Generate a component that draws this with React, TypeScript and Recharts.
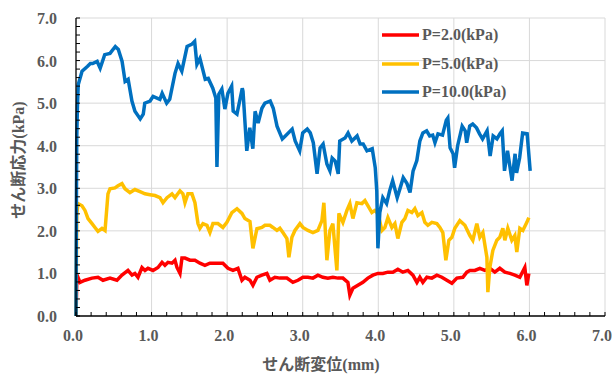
import React from 'react';
import { LineChart, Line, XAxis, YAxis, ReferenceLine } from 'recharts';

// shear displacement (mm), shear stress (kPa)
const P2: number[][] = [
  [0,0],[0.01,0.8],[0.026,0.91],[0.053,0.79],[0.119,0.84],[0.212,0.89],[0.291,0.91],[0.357,0.84],[0.45,0.89],[0.542,0.84],[0.608,0.96],[0.688,1.07],[0.741,0.96],[0.78,1.0],[0.82,0.91],[0.873,1.14],[0.913,1.07],[0.952,1.12],[1.019,1.07],[1.085,1.14],[1.138,1.26],[1.177,1.19],[1.217,1.26],[1.27,1.24],[1.31,1.31],[1.336,1.14],[1.376,1.0],[1.402,1.36],[1.442,1.36],[1.508,1.31],[1.574,1.31],[1.64,1.24],[1.706,1.19],[1.772,1.24],[1.865,1.24],[1.944,1.24],[2.011,1.12],[2.077,1.07],[2.143,1.12],[2.196,0.84],[2.235,0.91],[2.302,0.84],[2.341,0.72],[2.394,0.91],[2.46,0.96],[2.526,1.0],[2.566,0.84],[2.632,0.91],[2.698,0.89],[2.791,0.89],[2.87,0.79],[2.937,0.84],[3.003,0.91],[3.069,0.91],[3.135,0.89],[3.201,0.96],[3.267,0.91],[3.333,0.89],[3.399,0.91],[3.466,0.89],[3.532,0.89],[3.598,0.79],[3.624,0.49],[3.664,0.65],[3.73,0.72],[3.796,0.79],[3.862,0.89],[3.929,0.96],[3.995,1.0],[4.061,1.0],[4.127,1.03],[4.193,1.03],[4.259,1.1],[4.325,1.03],[4.392,1.07],[4.458,0.96],[4.511,0.79],[4.55,0.91],[4.59,0.79],[4.643,0.91],[4.709,0.89],[4.775,0.96],[4.841,0.91],[4.907,0.84],[4.974,0.77],[5.04,0.89],[5.119,0.91],[5.172,1.03],[5.212,1.07],[5.278,1.07],[5.344,1.12],[5.41,1.07],[5.476,1.12],[5.542,1.03],[5.608,1.12],[5.675,1.03],[5.741,1.0],[5.807,0.96],[5.873,0.91],[5.939,1.14],[5.966,0.72],[5.992,1.0]
];

const P5: number[][] = [
  [0,0],[0.01,2.4],[0.026,2.64],[0.079,2.59],[0.119,2.48],[0.159,2.29],[0.212,2.17],[0.251,2.08],[0.291,1.99],[0.344,2.06],[0.384,2.01],[0.423,2.87],[0.45,2.99],[0.516,3.01],[0.556,3.06],[0.608,3.11],[0.648,2.99],[0.714,2.9],[0.78,2.97],[0.847,2.92],[0.913,2.87],[0.979,2.85],[1.045,2.83],[1.111,2.78],[1.151,2.66],[1.204,2.78],[1.27,2.87],[1.31,2.78],[1.376,2.94],[1.415,2.87],[1.442,2.66],[1.481,2.87],[1.534,2.87],[1.574,2.66],[1.614,2.17],[1.64,2.06],[1.68,2.17],[1.733,2.13],[1.772,1.96],[1.812,2.17],[1.878,2.17],[1.944,2.08],[1.997,2.2],[2.063,2.43],[2.13,2.52],[2.196,2.41],[2.235,2.29],[2.302,2.22],[2.341,1.59],[2.394,2.05],[2.46,2.08],[2.5,2.13],[2.566,2.13],[2.606,2.08],[2.659,2.01],[2.698,2.06],[2.738,1.96],[2.791,1.82],[2.817,1.38],[2.857,1.85],[2.897,2.01],[2.963,2.17],[3.003,2.08],[3.069,2.01],[3.135,1.96],[3.201,2.01],[3.254,2.24],[3.28,2.66],[3.32,1.31],[3.36,2.01],[3.399,2.17],[3.452,1.07],[3.479,2.41],[3.532,2.2],[3.585,2.48],[3.624,2.64],[3.664,2.29],[3.717,2.66],[3.783,2.64],[3.823,2.71],[3.862,2.59],[3.915,2.43],[3.955,2.48],[3.995,2.41],[4.048,2.01],[4.087,2.08],[4.127,2.31],[4.18,2.08],[4.22,2.17],[4.259,1.82],[4.312,2.2],[4.352,2.29],[4.392,2.48],[4.444,2.43],[4.484,2.52],[4.524,2.36],[4.577,2.43],[4.616,2.2],[4.656,2.13],[4.709,2.2],[4.775,2.17],[4.815,2.08],[4.854,1.96],[4.894,1.31],[4.934,1.78],[4.974,1.85],[5.013,2.06],[5.079,2.24],[5.146,2.13],[5.212,1.89],[5.251,1.78],[5.304,2.17],[5.344,1.85],[5.384,1.96],[5.437,1.38],[5.45,0.56],[5.476,1.14],[5.516,1.54],[5.569,1.78],[5.608,1.85],[5.648,2.06],[5.675,1.78],[5.714,2.06],[5.767,1.78],[5.807,1.89],[5.833,1.5],[5.873,2.06],[5.913,2.01],[5.966,2.2],[5.992,2.31]
];

const P10: number[][] = [
  [0,0],[0.005,2.5],[0.01,4.2],[0.02,5.0],[0.03,5.44],[0.08,5.75],[0.15,5.86],[0.19,5.93],[0.22,5.93],[0.28,5.98],[0.32,5.82],[0.38,6.14],[0.45,6.17],[0.52,6.33],[0.56,6.26],[0.61,5.98],[0.65,5.51],[0.69,5.56],[0.74,5.05],[0.78,4.81],[0.85,4.63],[0.89,4.74],[0.91,5.0],[0.98,5.05],[1.02,5.16],[1.11,5.09],[1.14,5.23],[1.2,5.0],[1.24,5.09],[1.31,5.7],[1.35,5.93],[1.4,5.75],[1.47,6.33],[1.53,6.38],[1.57,6.45],[1.6,5.91],[1.64,6.05],[1.71,5.56],[1.75,5.58],[1.81,5.35],[1.85,5.12],[1.865,3.5],[1.89,5.21],[1.93,5.33],[1.97,4.86],[2.01,5.23],[2.06,5.4],[2.08,4.81],[2.13,4.74],[2.2,5.35],[2.21,5.28],[2.26,3.88],[2.3,4.42],[2.34,3.93],[2.37,4.81],[2.41,4.53],[2.46,4.88],[2.5,5.0],[2.57,5.05],[2.61,4.88],[2.66,4.46],[2.73,4.16],[2.77,4.23],[2.86,4.39],[2.9,4.11],[2.96,3.88],[3.0,4.3],[3.06,4.39],[3.1,4.3],[3.14,4.07],[3.19,3.34],[3.23,3.95],[3.27,4.04],[3.32,3.57],[3.36,3.41],[3.39,3.71],[3.43,3.64],[3.47,3.34],[3.49,4.11],[3.56,4.18],[3.6,4.3],[3.65,4.11],[3.72,4.23],[3.76,4.04],[3.8,4.04],[3.85,3.88],[3.92,3.93],[3.96,3.48],[3.98,2.94],[3.995,1.59],[4.02,2.43],[4.06,2.78],[4.11,2.64],[4.15,2.94],[4.19,3.18],[4.25,2.78],[4.29,3.01],[4.33,3.25],[4.38,3.11],[4.42,2.9],[4.46,3.4],[4.51,3.65],[4.55,4.11],[4.59,4.3],[4.64,4.35],[4.68,4.23],[4.72,4.25],[4.75,4.07],[4.79,4.28],[4.85,4.25],[4.9,4.6],[4.92,4.65],[4.95,3.95],[4.99,3.81],[5.01,3.48],[5.05,4.0],[5.11,4.46],[5.15,4.35],[5.17,4.07],[5.21,4.46],[5.25,4.51],[5.3,4.42],[5.34,4.28],[5.38,4.16],[5.44,4.35],[5.48,3.76],[5.52,4.23],[5.57,4.16],[5.61,4.28],[5.64,4.35],[5.67,3.41],[5.71,3.88],[5.77,3.18],[5.81,3.81],[5.83,3.36],[5.87,3.71],[5.91,4.3],[5.97,4.28],[6.01,3.41]
];

const minorTicks = [0,0.2,0.4,0.6,0.8,1,1.2,1.4,1.6,1.8,2,2.2,2.4,2.6,2.8,3,3.2,3.4,3.6,3.8,4,4.2,4.4,4.6,4.8,5,5.2,5.4,5.6,5.8,6,6.2,6.4,6.6,6.8,7];
const gridValues = [1,2,3,4,5,6,7];

const seriesNames = ['P=2.0(kPa)', 'P=5.0(kPa)', 'P=10.0(kPa)'];
const seriesColors = ['#FF0000', '#FFC000', '#0070C0'];
const seriesData = [P2, P5, P10];

const xTitle = 'せん断変位(mm)';
const yTitle = 'せん断応力(kPa)';

const FONT = "'Liberation Serif', 'Noto Sans CJK JP', serif";
const GRAY = '#595959';

const isMajor = (v: number) => Math.abs(v - Math.round(v)) < 1e-6;

const XTick = (props: any) => {
  const { x, y, payload } = props;
  const v = payload.value as number;
  return (
    <g>
      <line x1={x} y1={y} x2={x} y2={y - 4} stroke="#000" strokeWidth={1} />
      {isMajor(v) && (
        <text x={x - 3} y={y + 25} textAnchor="middle" fontFamily={FONT} fontWeight="bold" fontSize={16} fill={GRAY}>
          {v.toFixed(1)}
        </text>
      )}
    </g>
  );
};

const YTick = (props: any) => {
  const { x, y, payload } = props;
  const v = payload.value as number;
  return (
    <g>
      <line x1={x} y1={y} x2={x + 4} y2={y} stroke="#000" strokeWidth={1} />
      {isMajor(v) && (
        <text x={x - 19} y={y + 6} textAnchor="end" fontFamily={FONT} fontWeight="bold" fontSize={16} fill={GRAY}>
          {v.toFixed(1)}
        </text>
      )}
    </g>
  );
};

export default function App() {
  const lines = seriesData.map((s) => s.map(([x, y]) => ({ x, y })));
  return (
    <div style={{ position: 'absolute', left: 0, top: 0, width: 612, height: 374, overflow: 'hidden' }}>
      <LineChart width={612} height={374} margin={{ top: 18, right: 7, bottom: 0, left: 0 }}>
        {gridValues.map((v) => (
          <ReferenceLine key={'gx' + v} x={v} stroke="#d9d9d9" strokeWidth={1} />
        ))}
        {gridValues.map((v) => (
          <ReferenceLine key={'gy' + v} y={v} stroke="#d9d9d9" strokeWidth={1} />
        ))}
        <XAxis
          type="number"
          dataKey="x"
          domain={[0, 7]}
          ticks={minorTicks}
          interval={0}
          tickSize={0}
          tickMargin={0}
          tickLine={false}
          height={58}
          axisLine={{ stroke: '#000', strokeWidth: 1.3 }}
          tick={XTick}
          label={{
            content: () => (
              <text x={321} y={370} textAnchor="middle" fontFamily={FONT} fontWeight="bold" fontSize={16} fill={GRAY}>
                {xTitle}
              </text>
            ),
          }}
        />
        <YAxis
          type="number"
          dataKey="y"
          domain={[0, 7]}
          ticks={minorTicks}
          interval={0}
          tickSize={0}
          tickMargin={0}
          tickLine={false}
          width={76}
          axisLine={{ stroke: '#000', strokeWidth: 1.3 }}
          tick={YTick}
          label={{
            content: () => (
              <text
                transform="translate(24,160) rotate(-90)"
                textAnchor="middle"
                fontFamily={FONT}
                fontWeight="bold"
                fontSize={16}
                fill={GRAY}
              >
                {yTitle}
              </text>
            ),
          }}
        />
        {lines.map((d, i) => (
          <Line
            key={seriesNames[i]}
            data={d}
            dataKey="y"
            type="linear"
            stroke={seriesColors[i]}
            strokeWidth={3.5}
            dot={false}
            activeDot={false}
            isAnimationActive={false}
            name={seriesNames[i]}
          />
        ))}
      </LineChart>
      <div style={{ position: 'absolute', left: 382, top: 21 }}>
        {seriesNames.map((n, i) => (
          <div key={n} style={{ display: 'flex', alignItems: 'center', height: 28.5 }}>
            <svg width={38} height={6} style={{ display: 'block' }}>
              <line x1={0} y1={3} x2={37} y2={3} stroke={seriesColors[i]} strokeWidth={3.5} />
            </svg>
            <span
              style={{
                marginLeft: 2,
                fontFamily: FONT,
                fontWeight: 'bold',
                fontSize: 16,
                color: GRAY,
                lineHeight: '16px',
                whiteSpace: 'nowrap',
              }}
            >
              {n}
            </span>
          </div>
        ))}
      </div>
    </div>
  );
}
